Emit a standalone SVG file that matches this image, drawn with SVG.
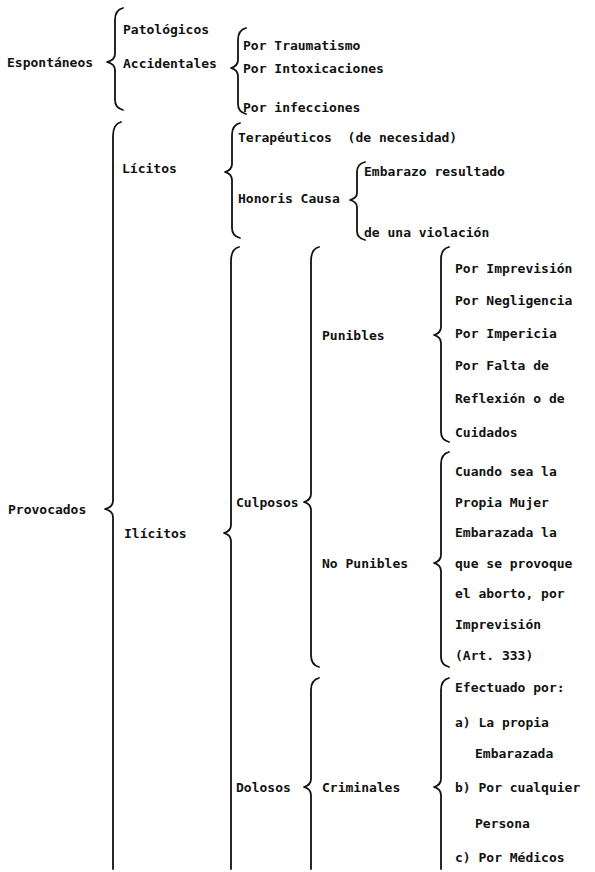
<svg xmlns="http://www.w3.org/2000/svg" width="595" height="872" viewBox="0 0 595 872">
<style>
text{font-family:"DejaVu Sans Mono","Liberation Mono",monospace;font-weight:bold;font-size:13px;fill:#111;white-space:pre}
.br{fill:none;stroke:#111;stroke-width:1.8;stroke-linecap:round;stroke-linejoin:round}
</style>
<rect width="595" height="872" fill="#fff"/>
<g id="connectors">
<path class="br" d="M123 8 Q115 10 115 20 L115 54 Q115 60 107 62 Q115 64 115 70 L115 100 Q115 108 123 110"/>
<path class="br" d="M246 28 Q238 30 238 40 L238 60 Q238 66 231 68 Q238 70 238 76 L238 104 Q238 112 246 114"/>
<path class="br" d="M121 122 Q113 124 113 136 L113 501 Q113 507 105 509 Q113 511 113 517 L113 869"/>
<path class="br" d="M240 123 Q232 125 232 135 L232 164 Q232 170 225 172 Q232 174 232 180 L232 228 Q232 236 240 238"/>
<path class="br" d="M365 162 Q357 164 357 172 L357 193 Q357 198 350 200 Q357 202 357 207 L357 231 Q357 238 365 240"/>
<path class="br" d="M239 247 Q231 249 231 261 L231 525 Q231 531 224 533 Q231 535 231 541 L231 869"/>
<path class="br" d="M319 247 Q311 249 311 261 L311 494 Q311 500 304 502 Q311 504 311 510 L311 655 Q311 665 319 667"/>
<path class="br" d="M449 247 Q441 249 441 259 L441 327 Q441 333 434 335 Q441 337 441 343 L441 432 Q441 440 449 442"/>
<path class="br" d="M449 452 Q441 454 441 464 L441 555 Q441 561 434 563 Q441 565 441 571 L441 657 Q441 665 449 667"/>
<path class="br" d="M319 678 Q311 680 311 690 L311 779 Q311 785 304 787 Q311 789 311 795 L311 869"/>
<path class="br" d="M449 678 Q441 680 441 690 L441 779 Q441 785 434 787 Q441 789 441 795 L441 869"/>
</g>
<g id="espontaneos"><text x="7" y="67">Espontáneos</text></g>
<g id="patologicos"><text x="123" y="34">Patológicos</text></g>
<g id="accidentales"><text x="123" y="68">Accidentales</text></g>
<g id="traumatismo"><text x="243" y="50">Por Traumatismo</text></g>
<g id="intoxicaciones"><text x="243" y="73">Por Intoxicaciones</text></g>
<g id="infecciones"><text x="243" y="112">Por infecciones</text></g>
<g id="provocados"><text x="8" y="514">Provocados</text></g>
<g id="licitos"><text x="122" y="173">Lícitos</text></g>
<g id="terapeuticos"><text x="238" y="142">Terapéuticos  (de necesidad)</text></g>
<g id="honoris"><text x="238" y="203">Honoris Causa</text></g>
<g id="violacion"><text x="364" y="176">Embarazo resultado</text><text x="364" y="237">de una violación</text></g>
<g id="ilicitos"><text x="124" y="538">Ilícitos</text></g>
<g id="culposos"><text x="236" y="507">Culposos</text></g>
<g id="punibles"><text x="322" y="340">Punibles</text></g>
<g id="punibles-items">
<text x="455" y="273">Por Imprevisión</text>
<text x="455" y="305">Por Negligencia</text>
<text x="455" y="338">Por Impericia</text>
<text x="455" y="370">Por Falta de</text>
<text x="455" y="403">Reflexión o de</text>
<text x="455" y="437">Cuidados</text>
</g>
<g id="no-punibles"><text x="322" y="568">No Punibles</text></g>
<g id="no-punibles-items">
<text x="455" y="476">Cuando sea la</text>
<text x="455" y="507">Propia Mujer</text>
<text x="455" y="537">Embarazada la</text>
<text x="455" y="568">que se provoque</text>
<text x="455" y="598">el aborto, por</text>
<text x="455" y="629">Imprevisión</text>
<text x="455" y="660">(Art. 333)</text>
</g>
<g id="dolosos"><text x="236" y="792">Dolosos</text></g>
<g id="criminales"><text x="322" y="792">Criminales</text></g>
<g id="criminales-items">
<text x="455" y="692">Efectuado por:</text>
<text x="455" y="727">a) La propia</text>
<text x="475" y="758">Embarazada</text>
<text x="455" y="792">b) Por cualquier</text>
<text x="475" y="828">Persona</text>
<text x="455" y="862">c) Por Médicos</text>
</g>
</svg>
